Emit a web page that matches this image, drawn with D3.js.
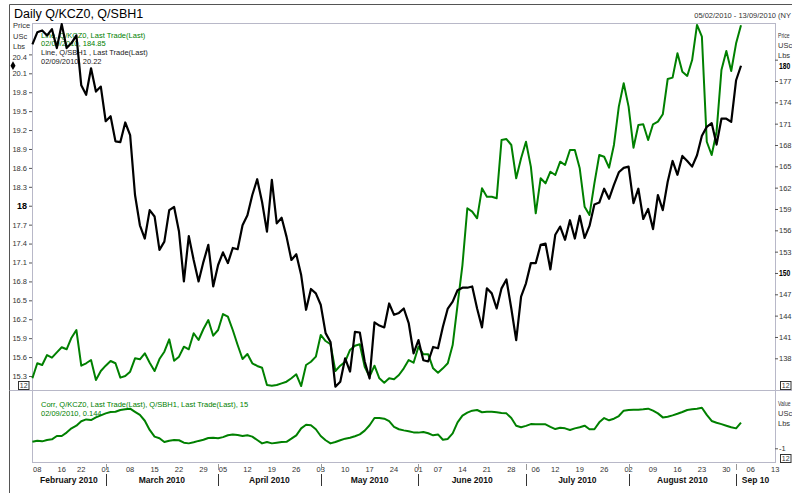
<!DOCTYPE html>
<html>
<head>
<meta charset="utf-8">
<script src="https://cdn.jsdelivr.net/npm/d3@7"></script>
<style>
  body { margin: 0; background: #fff; }
  svg { display: block; font-family: "Liberation Sans", Arial, sans-serif; }
</style>
</head>
<body>
<div id="chart"></div>
<script>
// Q/KCZ0 daily close (right axis), Q/SBH1 daily close (left axis), 15-day correlation
const kcz0 = [
  135.19, 137.30, 137.06, 138.46, 138.09, 138.84, 139.55, 139.27, 140.90, 141.98,
  136.96, 137.30, 137.76, 134.95, 136.21, 136.96, 137.62, 137.30, 135.28, 135.51,
  136.12, 138.00, 137.86, 138.70, 137.38, 136.21, 137.90, 138.93, 140.67, 137.66,
  138.23, 139.63, 139.27, 141.52, 140.57, 142.12, 143.38, 141.18, 141.98, 144.23,
  143.85, 141.98, 139.87, 137.90, 138.60, 137.30, 136.92, 136.68, 134.24, 134.15,
  134.24, 134.48, 134.71, 135.19, 135.75, 134.10, 137.06, 137.52, 138.23, 141.28,
  140.43, 139.97, 136.21, 136.96, 137.52, 139.17, 139.77, 139.97, 136.82, 135.41,
  136.96, 135.19, 134.57, 135.19, 135.05, 135.65, 136.59, 137.76, 137.38, 139.63,
  138.56, 138.56, 136.59, 135.97, 136.59, 137.30, 139.87, 145.50, 151.12, 159.10,
  158.62, 157.69, 161.91, 160.73, 160.73, 160.50, 168.70, 168.84, 168.00, 163.32,
  166.13, 168.46, 164.95, 158.39, 163.32, 162.61, 164.24, 163.78, 165.65, 165.19,
  167.30, 167.30, 164.72, 159.33, 158.16, 162.61, 166.59, 166.35, 164.81, 168.00,
  173.39, 176.68, 173.39, 167.62, 170.81, 170.91, 168.70, 170.91, 171.28, 172.32,
  177.28, 177.47, 180.90, 178.31, 177.71, 179.95, 184.88, 183.23, 168.46, 166.59,
  169.87, 178.55, 181.22, 178.41, 182.30, 184.85
];
const sbh1 = [
  20.56, 20.75, 20.78, 20.70, 20.80, 20.50, 20.88, 20.50, 20.58, 20.70,
  19.91, 19.76, 20.18, 19.81, 19.89, 19.34, 19.42, 19.02, 19.01, 19.32,
  19.12, 18.17, 17.69, 17.48, 17.93, 17.83, 17.30, 17.43, 17.93, 17.98,
  17.59, 16.80, 17.52, 17.14, 16.80, 17.11, 17.38, 16.72, 17.06, 17.26,
  17.09, 17.33, 17.31, 17.69, 17.85, 18.17, 18.42, 18.06, 17.59, 18.41,
  17.72, 17.81, 17.51, 17.14, 17.23, 16.90, 16.35, 16.68, 16.61, 16.43,
  15.98, 15.84, 15.13, 15.21, 15.58, 15.37, 16.00, 15.99, 15.53, 15.26,
  16.15, 16.10, 16.07, 16.45, 16.27, 16.30, 16.37, 16.14, 15.66, 15.87,
  15.55, 15.53, 15.76, 15.74, 16.08, 16.37, 16.48, 16.66, 16.70, 16.70,
  16.72, 16.37, 16.07, 16.69, 16.61, 16.37, 16.69, 16.83, 16.37, 15.87,
  16.56, 16.77, 17.09, 17.09, 17.38, 17.40, 16.99, 17.54, 17.67, 17.46,
  17.77, 17.48, 17.84, 17.49, 17.68, 18.02, 18.05, 18.27, 18.11, 18.33,
  18.53, 18.60, 18.62, 18.04, 18.27, 17.79, 17.95, 17.63, 18.17, 17.93,
  18.38, 18.71, 18.49, 18.79, 18.71, 18.62, 18.80, 19.11, 19.25, 19.31,
  18.97, 19.38, 19.38, 19.33, 19.99, 20.22
];
const corr = [
  -0.71, -0.66, -0.69, -0.63, -0.60, -0.45, -0.45, -0.30, -0.11, 0.01,
  0.21, 0.29, 0.26, 0.38, 0.47, 0.56, 0.62, 0.63, 0.71, 0.74,
  0.77, 0.63, 0.49, 0.23, -0.18, -0.48, -0.55, -0.72, -0.66, -0.63,
  -0.64, -0.75, -0.78, -0.73, -0.67, -0.62, -0.54, -0.53, -0.55, -0.50,
  -0.42, -0.38, -0.41, -0.45, -0.42, -0.48, -0.63, -0.78, -0.72, -0.78,
  -0.75, -0.72, -0.71, -0.57, -0.42, -0.11, 0.05, 0.03, -0.15, -0.45,
  -0.64, -0.78, -0.72, -0.64, -0.57, -0.53, -0.46, -0.38, -0.21, 0.03,
  0.35, 0.35, 0.32, 0.21, -0.04, -0.15, -0.20, -0.24, -0.29, -0.30,
  -0.27, -0.33, -0.42, -0.38, -0.62, -0.58, -0.33, 0.16, 0.46, 0.59,
  0.68, 0.71, 0.61, 0.63, 0.63, 0.61, 0.58, 0.56, 0.35, 0.01,
  -0.06, 0.00, 0.08, 0.07, 0.07, 0.07, -0.04, -0.14, -0.08, -0.11,
  -0.18, -0.11, -0.06, 0.01, -0.15, -0.15, 0.16, 0.35, 0.25, 0.32,
  0.44, 0.68, 0.71, 0.72, 0.72, 0.74, 0.77, 0.68, 0.56, 0.38,
  0.41, 0.47, 0.54, 0.62, 0.71, 0.74, 0.77, 0.81, 0.49, 0.22,
  0.14, 0.08, 0.01, -0.06, -0.11, 0.144
];

const holidays = ["2010-02-15", "2010-04-02", "2010-05-31", "2010-07-05"];
const weekTicks = [
  "2010-02-08", "2010-02-16", "2010-02-22", "2010-03-01", "2010-03-08", "2010-03-15",
  "2010-03-22", "2010-03-29", "2010-04-05", "2010-04-12", "2010-04-19", "2010-04-26",
  "2010-05-03", "2010-05-10", "2010-05-17", "2010-05-24", "2010-06-01", "2010-06-07",
  "2010-06-14", "2010-06-21", "2010-06-28", "2010-07-06", "2010-07-12", "2010-07-19",
  "2010-07-26", "2010-08-02", "2010-08-09", "2010-08-16", "2010-08-23", "2010-08-30",
  "2010-09-06", "2010-09-13"
];
const monthStarts = ["2010-02-05", "2010-03-01", "2010-04-01", "2010-05-03",
  "2010-06-01", "2010-07-01", "2010-08-02", "2010-09-01", "2010-09-14"];
const monthLabels = ["February 2010", "March 2010", "April 2010", "May 2010",
  "June 2010", "July 2010", "August 2010", "Sep 10"];
const leftTicks = [20.4, 20.1, 19.8, 19.5, 19.2, 18.9, 18.6, 18.3, 18, 17.7, 17.4,
  17.1, 16.8, 16.5, 16.2, 15.9, 15.6, 15.3];
const rightTicks = [180, 177, 174, 171, 168, 165, 162, 159, 156, 153, 150, 147, 144, 141, 138];

const w = 792, h = 493;
const green = "#008000";
const frame = "#b8b8c8";

const parse = d3.timeParse("%Y-%m-%d");
const fmt = d3.timeFormat("%Y-%m-%d");
const days = d3.timeDays(parse("2010-02-05"), parse("2010-09-14"))
  .filter(d => d.getDay() % 6 !== 0 && !holidays.includes(fmt(d)));
const dayIndex = new Map(days.map((d, i) => [fmt(d), i]));
dayIndex.set("2010-09-14", days.length);

const svg = d3.select("#chart").append("svg")
  .attr("width", w).attr("height", h);

const x = d3.scaleLinear().domain([0, days.length - 1]).range([32.4, 775.2]);
const yL = d3.scaleLinear().domain([15.3, 20.1]).range([376, 73.3]);
const yR = d3.scaleLinear().domain([138, 177]).range([358.3, 81]);
const yC = d3.scaleLinear().domain([-1, 1]).range([448.3, 403.5]);

// outer frame
svg.append("line").attr("x1", 9.5).attr("x2", w).attr("y1", 4.5).attr("y2", 4.5)
  .attr("stroke", "#555");
svg.append("line").attr("x1", 9.5).attr("x2", 9.5).attr("y1", 4.5).attr("y2", h)
  .attr("stroke", "#555");

svg.append("text").attr("x", 14).attr("y", 18).attr("font-size", 12.5)
  .text("Daily Q/KCZ0, Q/SBH1");
svg.append("text").attr("x", 791).attr("y", 18).attr("font-size", 7.5).attr("fill", "#333")
  .attr("text-anchor", "end")
  .text("05/02/2010 - 13/09/2010 (NY");

// plot frames
svg.append("rect").attr("x", 32.5).attr("y", 23.5).attr("width", 743).attr("height", 439)
  .attr("fill", "none").attr("stroke", frame);
svg.append("line").attr("x1", 9.5).attr("x2", w).attr("y1", 390.5).attr("y2", 390.5)
  .attr("stroke", frame);

// unit labels
const small = 7.5;
[["Price", 28], ["USc", 38.5], ["Lbs", 49]].forEach(([t, yy]) => {
  svg.append("text").attr("x", 13).attr("y", yy).attr("font-size", small).attr("fill", "#333").text(t);
});
// right-hand unit labels, narrowed so they stay inside the 792px page
[["Price", 38], ["USc", 48], ["Lbs", 58], ["Value", 406], ["USc", 415.5], ["Lbs", 425.5]]
  .forEach(([t, yy]) => {
    const sx = t.length > 3 ? 0.68 : 1;
    svg.append("text").attr("transform", `translate(778,${yy}) scale(${sx},1)`)
      .attr("font-size", small).attr("fill", "#333").text(t);
  });

// axes
function styleAxis(g, boldVals) {
  g.select(".domain").remove();
  g.selectAll(".tick line").attr("stroke", "#555");
  g.selectAll(".tick text").attr("fill", "#333").attr("font-size", small)
    .attr("font-family", "Liberation Sans, Arial, sans-serif");
  g.selectAll(".tick text").filter(d => boldVals.includes(d))
    .attr("font-weight", "bold").attr("font-size", 9).attr("fill", "#000");
}
const gl = svg.append("g").attr("transform", "translate(32,0)")
  .call(d3.axisLeft(yL).tickValues(leftTicks).tickSize(3).tickPadding(2).tickFormat(d => String(d)));
styleAxis(gl, [18]);
gl.selectAll(".tick").filter(d => d === 20.4).select("text").attr("dy", "0.65em");

const gr = svg.append("g").attr("transform", "translate(775,0)")
  .call(d3.axisRight(yR).tickValues(rightTicks).tickSize(3).tickPadding(1).tickFormat(d => String(d)));
styleAxis(gr, [180, 150]);
gr.selectAll(".tick").filter(d => d === 180).select("text").attr("dy", "0.95em");
gr.selectAll(".tick text").filter(d => d === 180 || d === 150)
  .attr("x", 4 / 0.76).attr("transform", "scale(0.76,1)");

const gc = svg.append("g").attr("transform", "translate(775,0)")
  .call(d3.axisRight(yC).tickValues([-1]).tickSize(3).tickPadding(1).tickFormat(d => String(d)));
styleAxis(gc, []);

// last-value diamond on the left
svg.append("path").attr("d", d3.symbol(d3.symbolDiamond, 22)())
  .attr("transform", `translate(13,${yL(sbh1[sbh1.length - 1])})`).attr("fill", "#000");

// scale boxes
[[18.5, 381.5], [780.5, 381.5], [780.5, 454.5]].forEach(([bx, by]) => {
  svg.append("rect").attr("x", bx).attr("y", by).attr("width", 10.5).attr("height", 8)
    .attr("fill", "#fff").attr("stroke", "#333");
  svg.append("text").attr("x", bx + 5.25).attr("y", by + 6.8).attr("text-anchor", "middle")
    .attr("font-size", 7).attr("fill", "#333").text("12");
});

// legends
const leg = [
  ["Line, Q/KCZ0, Last Trade(Last)", 37.5, green],
  ["02/09/2010, 184.85", 46, green],
  ["Line, Q/SBH1 , Last Trade(Last)", 55, "#222"],
  ["02/09/2010, 20.22", 63.5, "#222"],
  ["Corr, Q/KCZ0, Last Trade(Last), Q/SBH1, Last Trade(Last),  15", 407, green],
  ["02/09/2010, 0.144", 415.5, green]
];
leg.forEach(([t, yy, c]) => {
  svg.append("text").attr("x", 41).attr("y", yy).attr("font-size", small).attr("fill", c).text(t);
});

// series
const lineR = d3.line().x((d, i) => x(i)).y(d => yR(d));
const lineL = d3.line().x((d, i) => x(i)).y(d => yL(d));
const lineC = d3.line().x((d, i) => x(i)).y(d => yC(d));

svg.append("path").datum(kcz0).attr("fill", "none").attr("stroke", green)
  .attr("stroke-width", 2).attr("stroke-linejoin", "round").attr("d", lineR);
svg.append("path").datum(sbh1).attr("fill", "none").attr("stroke", "#000")
  .attr("stroke-width", 2.2).attr("stroke-linejoin", "round").attr("d", lineL);
svg.append("path").datum(corr).attr("fill", "none").attr("stroke", green)
  .attr("stroke-width", 2).attr("stroke-linejoin", "round").attr("d", lineC);

// bottom date axis
const xg = svg.append("g");
weekTicks.forEach(s => {
  xg.append("text").attr("x", x(dayIndex.get(s))).attr("y", 472)
    .attr("text-anchor", "middle").attr("font-size", small).attr("fill", "#333")
    .text(s.slice(8));
});
monthStarts.forEach((s, k) => {
  if (k === 0 || k === monthStarts.length - 1) return;
  const mx = Math.round(x(dayIndex.get(s))) + 0.5;
  xg.append("line").attr("x1", mx).attr("x2", mx).attr("y1", 464).attr("y2", 470)
    .attr("stroke", "#999");
  xg.append("line").attr("x1", mx).attr("x2", mx).attr("y1", 474).attr("y2", 486)
    .attr("stroke", "#333");
});
monthLabels.forEach((t, k) => {
  const a = k === 0 ? 32 : x(dayIndex.get(monthStarts[k]));
  const b = Math.min(x(dayIndex.get(monthStarts[k + 1])), 775);
  xg.append("text").attr("x", (a + b) / 2).attr("y", 483)
    .attr("text-anchor", "middle").attr("font-size", 8.5).attr("font-weight", "bold")
    .attr("fill", "#111").text(t);
});
</script>
</body>
</html>
